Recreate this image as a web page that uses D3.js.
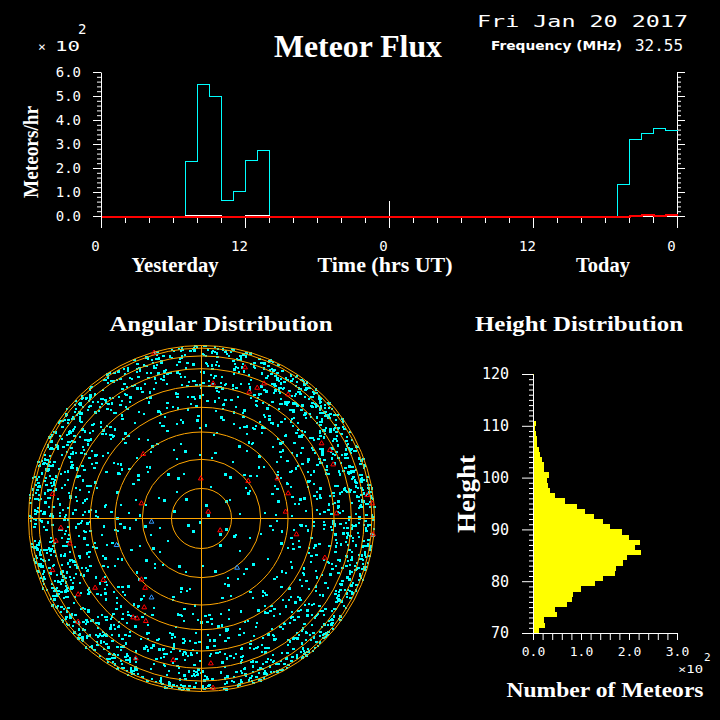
<!DOCTYPE html>
<html><head><meta charset="utf-8">
<script src="https://cdn.jsdelivr.net/npm/d3@7"></script>
<style>body{margin:0;background:#000}svg{display:block}</style>
</head><body><svg id="c" width="720" height="720"></svg>
<script>
// ---------------- DATA ----------------
// Meteor flux (meteors/hr) per hour, 48 hours: yesterday 0..23, today 24..47
const fluxHours = [0,1,2,3,4,5,6,7,8,9,10,11,12,13,14,15,16,17,18,19,20,21,22,23,
                   24,25,26,27,28,29,30,31,32,33,34,35,36,37,38,39,40,41,42,43,44,45,46,47];
const fluxCyan  = [0,0,0,0,0,0,0,228,549,500,65,103,232,274,0,0,0,0,0,0,0,0,0,0,
                   0,0,0,0,0,0,0,0,0,0,0,0,0,0,0,0,0,0,0,132,319,344,365,357];
const fluxWhite = [0,0,0,0,0,0,0,3,3,3,0,0,3,3,0,0,0,0,0,0,0,0,0,0,
                   0,0,0,0,0,0,0,0,0,0,0,0,0,0,0,0,0,0,0,0,3,3,3,3];
const fluxRed   = [0,0,0,0,0,0,0,0,0,0,0,0,0,0,0,0,0,0,0,0,0,0,0,0,
                   0,0,0,0,0,0,0,0,0,0,0,0,0,0,0,0,0,0,0,0,5,9,5,9];
const fluxXTicks = [0,12,24,36,48];
const fluxXTickLabels = ["0","12","0","12","0"];

// Height distribution: 1 km bins (lower edge) and meteor counts
const heightBins = [70,71,72,73,74,75,76,77,78,79,80,81,82,83,84,85,86,87,88,89,
                    90,91,92,93,94,95,96,97,98,99,100,101,102,103,104,105,106,107,108,109,
                    110,111,112,113,114,115,116,117,118,119];
const heightCounts = [12,24,22,51,46,71,81,83,99,129,146,171,173,187,195,225,212,223,200,185,
                      160,145,127,108,91,67,45,36,32,30,34,22,22,18,14,12,9,9,7,5,
                      7,3,3,3,3,3,3,3,3,3];

// Angular distribution: zenith bands (deg) x 12 azimuth sectors (30 deg each, clockwise from N)
const zenithEdges = [0,10,20,30,40,50,60,70,80,90];
const cyanSectorCounts = [
  [1,1,1,1,1,0,1,1,1,1,1,0],
  [2,3,3,3,2,2,2,3,3,3,2,2],
  [5,7,7,6,5,5,5,6,7,6,6,5],
  [12,17,16,14,13,12,12,14,15,14,13,12],
  [23,32,30,25,22,20,22,25,29,26,24,22],
  [33,47,43,35,33,30,31,36,42,38,34,29],
  [36,52,49,44,38,35,35,42,48,46,38,31],
  [34,44,43,43,36,33,33,39,44,42,35,30],
  [12,14,14,16,13,12,12,13,14,14,12,10]
];
// red markers: direction cosines [east, north]
const redEast  = [-0.274,0.252,0.067,0.362,0.322,0.276,0.501,-0.337,0.694,0.742,0.761,-0.004,0.270,0.439,0.501,
                  -0.861,0.958,0.986,-0.347,0.039,0.486,0.780,-0.813,-0.842,-0.761,0.108,0.549,0.992,0.713,
                  -0.861,-0.568,-0.615,-0.326,-0.713,-0.331,-0.395,-0.372,-0.322,-0.713,-0.380,-0.164,0.054,0.067,-0.347];
const redNorth = [0.958,0.873,0.780,0.780,0.755,0.732,0.717,0.372,0.434,0.395,0.312,0.231,0.216,0.231,0.145,
                  0.141,0.135,0.087,0.087,0.039,0.039,0.029,-0.054,-0.129,-0.145,-0.069,-0.092,-0.092,-0.227,
                  -0.299,-0.356,-0.401,-0.401,-0.439,-0.514,-0.572,-0.578,-0.593,-0.597,-0.809,-0.819,-0.838,-0.979,-0.353];
const blueEast  = [-0.289,-0.491,-0.289,0.206];
const blueNorth = [-0.019,-0.154,-0.457,-0.285];
const zenithRings = [10,20,30,40,50,60,70,80,90];

// ---------------- DRAW ----------------
const svg = d3.select("#c");
svg.append("rect").attr("width",720).attr("height",720).attr("fill","#000");
const MONO = "'DejaVu Sans Mono','Liberation Mono',monospace";
const SERIF = "'Liberation Serif','DejaVu Serif',serif";
const SANS = "'DejaVu Sans','Liberation Sans',sans-serif";
function text(x,y,s,o){
  const t = svg.append("text").attr("x",x).attr("y",y).text(s)
    .attr("fill","#fff").attr("font-family",o.f||MONO).attr("font-size",o.s||14)
    .attr("font-weight",o.w||"normal").attr("text-anchor",o.a||"start");
  if(o.len) t.attr("textLength",o.len).attr("lengthAdjust","spacingAndGlyphs");
  if(o.rot) t.attr("transform",`rotate(${o.rot},${x},${y})`);
  return t;
}

// header
text(477,27,"Fri Jan 20 2017",{s:16,len:211});
text(358,57,"Meteor Flux",{f:SERIF,s:32,w:"bold",a:"middle",len:168});
text(491,50,"Frequency (MHz)",{f:SANS,s:13,w:"bold",len:131});
text(635,51,"32.55",{s:15,len:48});
text(38,51,"×",{s:13});
text(55,51,"10",{s:14,len:25});
text(78,34,"2",{s:14});

// ---- Flux chart ----
const xF = d3.scaleLinear().domain([0,48]).range([101,677]);
const yF = d3.scaleLinear().domain([0,600]).range([216,72]);
const yTicks = d3.range(0,601,20);
function styleAxis(g){
  g.select(".domain").attr("stroke","#fff");
  g.selectAll(".tick line").attr("stroke","#fff");
  g.selectAll("text").attr("fill","#fff").attr("font-family",MONO).attr("font-size",14);
}
const gL = svg.append("g").attr("transform","translate(101,0)")
  .call(d3.axisLeft(yF).tickValues(yTicks).tickSize(4).tickSizeOuter(0)
    .tickFormat(d => d%100===0 ? (d/100).toFixed(1) : ""));
styleAxis(gL);
gL.selectAll(".tick line").attr("x2", d => d%100===0 ? -8 : -4);
gL.selectAll(".tick text").attr("x",-20);
const gR = svg.append("g").attr("transform","translate(677,0)")
  .call(d3.axisRight(yF).tickValues(yTicks).tickSize(4).tickSizeOuter(0).tickFormat(""));
styleAxis(gR);
gR.selectAll(".tick line").attr("x2", d => d%100===0 ? 8 : 4);
const gB = svg.append("g").attr("transform","translate(0,216)")
  .call(d3.axisBottom(xF).tickValues(d3.range(0,49,2)).tickSize(7).tickSizeOuter(0)
    .tickFormat(d => { const i = fluxXTicks.indexOf(d); return i>=0 ? fluxXTickLabels[i] : ""; }));
styleAxis(gB);
gB.selectAll(".tick line").attr("y2", d => d%12===0 ? 12 : 7);
gB.selectAll(".tick").filter(d => d===24).select("line").attr("y1",-15);
gB.selectAll(".tick text").attr("y",25).attr("x",-6);

const stepLine = d3.line().x(d=>xF(d[0])+0.5).y(d=>Math.round(yF(d[1]))+0.5).curve(d3.curveStepAfter);
function stepData(vals){ const a = fluxHours.map((h,i)=>[h,vals[i]]); a.push([48, vals[vals.length-1]]); return a; }
svg.append("path").attr("d",stepLine(stepData(fluxCyan))).attr("fill","none").attr("stroke","#0ff").attr("stroke-width",1).attr("shape-rendering","crispEdges");
svg.append("path").attr("d",stepLine(stepData(fluxWhite))).attr("fill","none").attr("stroke","#fff").attr("stroke-width",1).attr("shape-rendering","crispEdges");
svg.append("path").attr("d",stepLine(stepData(fluxRed))).attr("fill","none").attr("stroke","#f00").attr("stroke-width",2).attr("shape-rendering","crispEdges");

text(38,152,"Meteors/hr",{f:SERIF,s:20,w:"bold",a:"middle",rot:-90,len:92});
text(175,272,"Yesterday",{f:SERIF,s:20,w:"bold",a:"middle",len:87});
text(385,272,"Time (hrs UT)",{f:SERIF,s:20,w:"bold",a:"middle",len:135});
text(603,272,"Today",{f:SERIF,s:20,w:"bold",a:"middle",len:54});

// ---- Angular distribution ----
text(221,331,"Angular Distribution",{f:SERIF,s:22,w:"bold",a:"middle",len:223});
const cx = 201.5, cy = 518.5, R = 173;
const rP = d3.scaleLinear().domain([0,1]).range([0,R]);
const rad = d => d*Math.PI/180;
const frac = v => v - Math.floor(v);
const hash = n => frac(Math.sin(n*12.9898 + 78.233)*43758.5453);
const dots = [];
cyanSectorCounts.forEach((row,b) => {
  const s0 = Math.sin(rad(zenithEdges[b])), s1 = Math.sin(rad(zenithEdges[b+1]));
  row.forEach((n,s) => {
    const k = b*12 + s;
    for(let i=0;i<n;i++){
      const u = hash(k*1000 + i*2 + 0.5);
      const v = hash(k*1000 + i*2 + 1.5);
      const rho = Math.sqrt(s0*s0 + u*(s1*s1 - s0*s0));
      const az = rad(s*30 + v*30);
      dots.push({x: cx + rP(rho)*Math.sin(az), y: cy - rP(rho)*Math.cos(az), w: i%3===0 ? 3 : 2, h: i%5===0 ? 3 : 2});
    }
  });
});
svg.append("g").selectAll("rect").data(dots).join("rect")
  .attr("x",d=>Math.round(d.x)-1).attr("y",d=>Math.round(d.y)-1)
  .attr("width",d=>d.w).attr("height",d=>d.h).attr("fill","#0ff").attr("shape-rendering","crispEdges");
const gP = svg.append("g");
gP.selectAll("circle").data(zenithRings).join("circle")
  .attr("cx",cx).attr("cy",cy).attr("r",d=>rP(Math.sin(rad(d))))
  .attr("fill","none").attr("stroke","#ffa500").attr("stroke-width",1);
gP.append("line").attr("x1",cx-rP(1)).attr("x2",cx+rP(1)).attr("y1",cy).attr("y2",cy).attr("stroke","#ffa500");
gP.append("line").attr("x1",cx).attr("x2",cx).attr("y1",cy-rP(1)).attr("y2",cy+rP(1)).attr("stroke","#ffa500");
const tri = d3.symbol(d3.symbolTriangle, 10);
svg.append("g").selectAll("path").data(redEast.map((e,i)=>[e,redNorth[i]])).join("path")
  .attr("d",tri).attr("transform",d=>`translate(${cx+rP(d[0])},${cy-rP(d[1])})`)
  .attr("fill","none").attr("stroke","#f00").attr("stroke-width",1);
svg.append("g").selectAll("path").data(blueEast.map((e,i)=>[e,blueNorth[i]])).join("path")
  .attr("d",tri).attr("transform",d=>`translate(${cx+rP(d[0])},${cy-rP(d[1])})`)
  .attr("fill","none").attr("stroke","#39f").attr("stroke-width",1);

// ---- Height distribution ----
text(579,331,"Height Distribution",{f:SERIF,s:22,w:"bold",a:"middle",len:208});
const xH = d3.scaleLinear().domain([0,300]).range([533,677]);
const yH = d3.scaleLinear().domain([70,120]).range([633,374]);
svg.append("g").selectAll("rect").data(heightBins.map((h,i)=>[h,heightCounts[i]])).join("rect")
  .attr("x",xH(0)).attr("y",d=>yH(d[0]+1)).attr("height",d=>yH(d[0])-yH(d[0]+1))
  .attr("width",d=>xH(d[1])-xH(0)).attr("fill","#ff0").attr("shape-rendering","crispEdges");
const gHL = svg.append("g").attr("transform","translate(533,0)")
  .call(d3.axisLeft(yH).tickValues(d3.range(70,121,1)).tickSize(4).tickSizeOuter(0)
    .tickFormat(d => d%10===0 ? String(d) : ""));
styleAxis(gHL);
gHL.selectAll(".tick line").attr("x2", d => d%10===0 ? -11 : -4);
gHL.selectAll(".tick text").attr("x",-24).attr("font-size",15);
const gHB = svg.append("g").attr("transform","translate(0,633)")
  .call(d3.axisBottom(xH).tickValues(d3.range(0,301,20)).tickSize(7).tickSizeOuter(0)
    .tickFormat(d => d%100===0 ? (d/100).toFixed(1) : ""));
styleAxis(gHB);
gHB.selectAll(".tick text").attr("y",14).attr("font-size",13);
text(678,673,"×10",{s:11,len:25});
text(704,661,"2",{s:11});
text(475,494,"Height",{f:SERIF,s:26,w:"bold",a:"middle",rot:-90,len:78});
text(605,697,"Number of Meteors",{f:SERIF,s:21,w:"bold",a:"middle",len:197});
</script></body></html>
